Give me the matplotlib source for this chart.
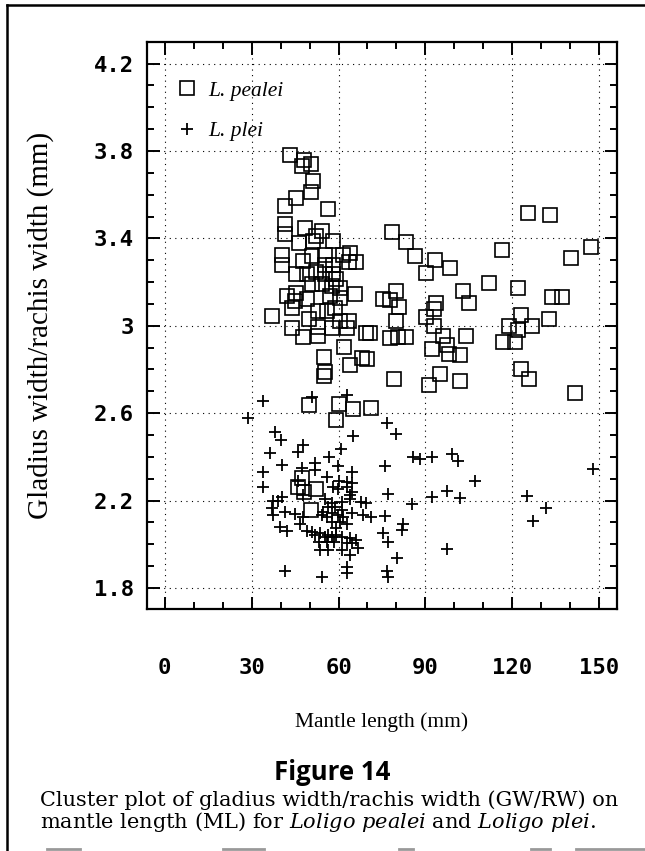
import matplotlib
matplotlib.use("Agg")
import matplotlib.pyplot as plt
from matplotlib.lines import Line2D
from matplotlib.ticker import MultipleLocator

# --- data -----------------------------------------------------------------
# L. pealei (open squares): mantle length (mm) and GW/RW
pealei_ml = [
    43.3, 48.1, 47.5, 50.6, 51.3, 50.5, 45.5, 41.5, 56.4, 41.5, 41.5, 48.4,
    54.2, 52.4, 78.5, 46.4, 51.3, 58.2, 83.4, 86.4, 93.4, 98.4, 90.3, 125.3,
    133.0, 147.0, 140.1, 116.3, 111.9, 121.8, 103.0, 80.0, 133.8, 137.0, 105.0,
    93.8, 93.0, 80.8, 65.7, 36.9,
    40.4, 40.4, 47.8, 51.0, 55.3, 55.3, 61.4, 63.9, 66.0, 63.7, 58.2, 45.3,
    49.0, 52.4, 55.3, 58.2, 59.3, 51.0, 54.2, 57.6, 60.5, 42.1, 45.5, 49.0,
    44.9, 57.0, 60.5, 43.8, 53.0, 55.9, 58.8, 49.9, 43.8, 53.0, 57.6, 60.5,
    63.7, 63.0, 47.8, 53.0, 69.5, 71.0, 61.9, 54.9, 64.0, 68.0, 70.0, 55.3,
    54.9, 79.1,
    75.4, 77.7, 80.0, 77.7, 80.6, 83.4, 90.2, 93.0, 96.1, 104.0, 97.3, 98.2,
    101.9, 92.1, 95.0, 91.2, 102.0, 122.9, 121.8, 118.8, 126.9, 132.7, 116.8,
    120.8, 123.0, 125.8, 141.7,
    49.9, 60.0, 65.0, 71.1, 59.0,
    47.5, 45.9, 48.2, 52.3, 50.4,
]
pealei_ratio = [
    3.783, 3.758, 3.730, 3.740, 3.663, 3.612, 3.587, 3.549, 3.536, 3.468,
    3.420, 3.446, 3.432, 3.410, 3.430, 3.378, 3.388, 3.386, 3.385, 3.320,
    3.300, 3.266, 3.240, 3.517, 3.506, 3.362, 3.312, 3.347, 3.196, 3.172,
    3.160, 3.160, 3.130, 3.130, 3.105, 3.103, 3.076, 3.088, 3.147, 3.045,
    3.324, 3.278, 3.297, 3.319, 3.324, 3.278, 3.324, 3.334, 3.293, 3.293,
    3.278, 3.236, 3.236, 3.248, 3.236, 3.236, 3.213, 3.193, 3.193, 3.182,
    3.175, 3.137, 3.152, 3.122, 3.114, 3.137, 3.129, 3.080, 3.068, 3.068,
    3.083, 3.030, 2.990, 2.995, 2.990, 3.023, 3.020, 2.990, 2.947, 2.954,
    2.965, 2.965, 2.904, 2.859, 2.822, 2.852, 2.848, 2.790, 2.772, 2.755,
    3.122, 3.118, 3.020, 2.944, 2.950, 2.950, 3.038, 2.997, 2.954, 2.954,
    2.914, 2.870, 2.868, 2.894, 2.780, 2.729, 2.749, 3.049, 2.980, 2.997,
    3.000, 3.033, 2.928, 2.928, 2.800, 2.757, 2.691,
    2.638, 2.640, 2.620, 2.625, 2.571,
    2.304, 2.260, 2.240, 2.255, 2.155,
]

# L. plei (plus signs)
plei_ml = [
    34.0, 28.8, 50.9, 62.9, 76.8, 79.9, 65.1, 38.0, 40.0, 47.8, 46.1, 36.5,
    60.7, 56.8, 59.9, 51.8, 51.8, 47.4, 40.4, 76.0, 64.5, 56.1, 60.2, 46.1,
    34.0, 34.0, 64.5, 58.2, 62.8, 62.8, 64.5, 63.9, 59.9, 77.0, 40.4, 55.2,
    63.9, 67.9, 61.1, 69.6, 57.6, 58.8, 56.5, 61.1, 47.8, 37.5, 39.2,
    85.8, 88.1, 92.1, 99.0, 101.3, 107.1, 97.3, 92.1, 102.0, 85.2,
    36.9, 37.5, 41.5, 44.9, 46.7, 47.8, 39.8, 42.1, 49.0, 50.7, 51.8, 53.6,
    56.4, 59.3, 53.3, 56.1, 58.4, 53.6, 56.4, 54.7, 57.6, 54.2, 55.9, 57.6,
    60.5, 59.3, 59.9, 61.6, 62.8, 61.1, 63.9, 66.2, 66.8, 61.1, 63.9, 63.0,
    63.0, 41.5, 54.2, 76.6, 77.2, 64.5, 68.4, 71.3, 76.0, 82.2, 81.8, 75.3,
    77.2, 97.4, 80.1, 124.9, 131.6, 127.2, 147.9, 64.5, 62.8, 55.3, 57.6,
]
plei_ratio = [
    2.658, 2.579, 2.673, 2.685, 2.557, 2.507, 2.494, 2.513, 2.475, 2.456,
    2.422, 2.420, 2.437, 2.399, 2.360, 2.374, 2.340, 2.350, 2.361, 2.358,
    2.331, 2.308, 2.288, 2.288, 2.331, 2.260, 2.281, 2.260, 2.260, 2.285,
    2.240, 2.224, 2.255, 2.231, 2.217, 2.205, 2.205, 2.194, 2.194, 2.190,
    2.190, 2.171, 2.171, 2.156, 2.224, 2.200, 2.200,
    2.399, 2.392, 2.399, 2.415, 2.381, 2.290, 2.244, 2.217, 2.214, 2.185,
    2.164, 2.133, 2.148, 2.138, 2.095, 2.125, 2.080, 2.060, 2.060, 2.055,
    2.042, 2.050, 2.042, 2.042, 2.011, 2.011, 2.011, 1.973, 1.973, 2.148,
    2.141, 2.135, 2.125, 2.103, 2.103, 2.073, 2.133, 2.125, 2.095, 2.034,
    2.027, 2.019, 1.981, 1.973, 1.951, 1.897, 1.870, 1.877, 1.849, 1.877,
    1.849, 2.141, 2.133, 2.127, 2.131, 2.095, 2.065, 2.052, 2.011, 1.977,
    1.938, 2.220, 2.164, 2.107, 2.346, 2.004, 2.004, 2.034, 2.034,
]

x_ticks = [0, 30, 60, 90, 120, 150]
x_tick_labels = ["0", "30", "60", "90", "120", "150"]
y_ticks = [1.8, 2.2, 2.6, 3.0, 3.4, 3.8, 4.2]
y_tick_labels = ["1.8", "2.2", "2.6", "3", "3.4", "3.8", "4.2"]
legend_labels = ["L. pealei", "L. plei"]

# --- figure ---------------------------------------------------------------
plt.rcParams["mathtext.fontset"] = "custom"
plt.rcParams["mathtext.rm"] = "DejaVu Serif"
plt.rcParams["mathtext.it"] = "DejaVu Serif:italic"

fig = plt.figure(figsize=(6.45, 8.51), dpi=100)
ax = fig.add_axes([0.2274, 0.2844, 0.7292, 0.6666])

ax.plot(pealei_ml, pealei_ratio, linestyle="none", marker="s", markersize=9.6,
        markerfacecolor="none", markeredgecolor="black", markeredgewidth=1.2,
        label=legend_labels[0])
ax.plot(plei_ml, plei_ratio, linestyle="none", marker="+", markersize=9,
        color="black", markeredgewidth=1.3, label=legend_labels[1])

ax.set_xlim(-6.2, 156.1)
ax.set_ylim(1.704, 4.30)

# dotted dot-matrix style grid
ax.set_xticks(x_ticks)
ax.set_yticks(y_ticks)
ax.grid(True, which="major", color="black", linewidth=0.8,
        linestyle=(0, (1, 4)))
ax.xaxis.set_minor_locator(MultipleLocator(10))
ax.yaxis.set_minor_locator(MultipleLocator(0.1))

ax.set_xticklabels(x_tick_labels)
ax.set_yticklabels(y_tick_labels)
ax.tick_params(which="both", direction="in", top=True, right=True,
               width=1.4, color="black")
ax.tick_params(which="major", length=9)
ax.tick_params(which="minor", length=5)
ax.tick_params(axis="x", which="major", pad=35)
ax.tick_params(axis="y", which="major", pad=9)
for lab in ax.get_xticklabels() + ax.get_yticklabels():
    lab.set_fontfamily("DejaVu Sans Mono")
    lab.set_fontweight("bold")
    lab.set_fontsize(16)

for sp in ax.spines.values():
    sp.set_linewidth(1.6)

ax.set_xlabel("Mantle length (mm)", family="Liberation Serif", fontsize=15.5,
              labelpad=25)
ax.set_ylabel("Gladius width/rachis width (mm)", family="Liberation Serif",
              fontsize=21, labelpad=29)

leg = ax.legend(loc="upper left", bbox_to_anchor=(0.066, 0.931), frameon=False,
                borderpad=0, borderaxespad=0, handlelength=0.85,
                handletextpad=0.55, labelspacing=0.95,
                prop={"family": "Liberation Serif", "style": "italic",
                      "size": 15.5})

# caption
fig.text(332 / 645, 1 - 773 / 851, "Figure 14", family="Open Sans",
         weight="bold", fontsize=18.5, ha="center", va="center")
fig.text(40 / 645, 1 - 800 / 851,
         "Cluster plot of gladius width/rachis width (GW/RW) on",
         family="DejaVu Serif", fontsize=15, ha="left", va="center")
fig.text(40 / 645, 1 - 822 / 851,
         r"mantle length (ML) for $\mathit{Loligo\ pealei}$ and "
         r"$\mathit{Loligo\ plei}$.",
         family="DejaVu Serif", fontsize=15, ha="left", va="center")

# page frame (left and top rules of the printed box)
fig.add_artist(Line2D([7 / 645, 7 / 645], [0, 1 - 5 / 851],
                      transform=fig.transFigure, color="black", linewidth=1.8))
fig.add_artist(Line2D([7 / 645, 1], [1 - 5 / 851, 1 - 5 / 851],
                      transform=fig.transFigure, color="black", linewidth=1.8))
for x0, x1 in [(47, 80), (223, 264), (399, 413), (531, 550), (576, 645)]:
    fig.add_artist(Line2D([x0 / 645, x1 / 645], [2 / 851, 2 / 851],
                          transform=fig.transFigure, color="0.6",
                          linewidth=2))

fig.savefig("out.png", dpi=100)
